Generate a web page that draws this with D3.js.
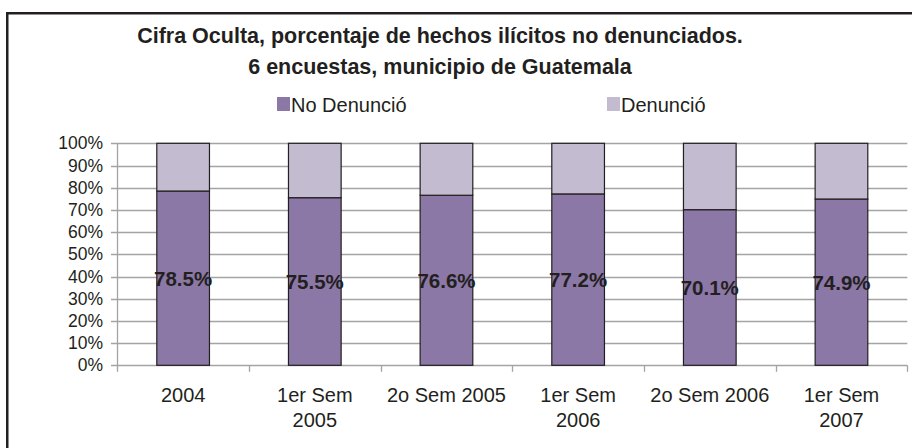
<!DOCTYPE html>
<html>
<head>
<meta charset="utf-8">
<script src="https://cdn.jsdelivr.net/npm/d3@7"></script>
<style>
  html, body { margin: 0; padding: 0; background: #fff; }
  svg { display: block; font-family: "Liberation Sans", Arial, sans-serif; }
</style>
</head>
<body>
<svg id="chart" width="912" height="448"></svg>
<script>
const titleLines = ["Cifra Oculta, porcentaje de hechos ilícitos no denunciados.", "6 encuestas, municipio de Guatemala"];
const categories = ["2004", "1er Sem\n2005", "2o Sem 2005", "1er Sem\n2006", "2o Sem 2006", "1er Sem\n2007"];
const seriesNames = ["No Denunció", "Denunció"];
const noDenuncio = [78.5, 75.5, 76.6, 77.2, 70.1, 74.9];
const denuncio = [21.5, 24.5, 23.4, 22.8, 29.9, 25.1];
const yTicks = [0, 10, 20, 30, 40, 50, 60, 70, 80, 90, 100];
const colors = ["#8b78a6", "#c3bbcf"];

const svg = d3.select("#chart");
const textColor = "#231f20";
const gridColor = "#a4a4a4";

// outer frame
svg.append("rect").attr("x", 7.25).attr("y", 13.25).attr("width", 1000).attr("height", 1000)
  .attr("fill", "none").attr("stroke", textColor).attr("stroke-width", 2.5);

// title
svg.append("g").selectAll("text").data(titleLines).join("text")
  .attr("x", 440).attr("y", (d, i) => 43 + i * 31)
  .attr("text-anchor", "middle").attr("font-weight", "bold").attr("font-size", 21.5)
  .attr("fill", textColor).text(d => d);

// legend
const legendX = [277, 607];
const lg = svg.append("g").selectAll("g").data(seriesNames).join("g")
  .attr("transform", (d, i) => `translate(${legendX[i]},0)`);
lg.append("rect").attr("x", 0).attr("y", 97).attr("width", 13).attr("height", 14).attr("fill", (d, i) => colors[i]);
lg.append("text").attr("x", 14).attr("y", 111.5).attr("font-size", 20).attr("fill", textColor).text(d => d);

// scales
const x = d3.scaleBand().domain(categories).range([117.3, 907.3]).paddingInner(0).paddingOuter(0);
const y = d3.scaleLinear().domain([0, 100]).range([365.3, 143.3]);

// gridlines
svg.append("g").selectAll("line").data(yTicks).join("line")
  .attr("x1", 111).attr("x2", 907.3)
  .attr("y1", d => Math.round(y(d)) + 0.5).attr("y2", d => Math.round(y(d)) + 0.5)
  .attr("stroke", gridColor).attr("stroke-width", 1.3);

// y axis line
svg.append("line").attr("x1", 117.5).attr("x2", 117.5).attr("y1", y(100)).attr("y2", y(0))
  .attr("stroke", gridColor).attr("stroke-width", 1.3);

// x ticks at category boundaries
const bounds = categories.map(c => x(c)).concat([x.range()[1]]);
svg.append("g").selectAll("line").data(bounds).join("line")
  .attr("x1", d => Math.round(d) + 0.5).attr("x2", d => Math.round(d) + 0.5)
  .attr("y1", y(0)).attr("y2", y(0) + 6.5)
  .attr("stroke", gridColor).attr("stroke-width", 1.3);

// y tick labels
svg.append("g").selectAll("text").data(yTicks).join("text")
  .attr("x", 103).attr("y", d => y(d)).attr("dy", "0.35em")
  .attr("text-anchor", "end").attr("font-size", 17.5).attr("fill", textColor)
  .text(d => d + "%");

// stacked bars
const stackData = categories.map((c, i) => ({ cat: c, s0: noDenuncio[i], s1: denuncio[i] }));
const stack = d3.stack().keys(["s0", "s1"])(stackData);
const barW = x.bandwidth() * 0.4;

svg.append("g").selectAll("g").data(stack).join("g")
  .attr("fill", (d, i) => colors[i])
  .selectAll("rect").data(d => d).join("rect")
  .attr("x", d => x(d.data.cat) + (x.bandwidth() - barW) / 2)
  .attr("width", barW)
  .attr("y", d => y(d[1]))
  .attr("height", d => y(d[0]) - y(d[1]))
  .attr("stroke", textColor).attr("stroke-width", 1.2);

// data labels (No Denunció)
svg.append("g").selectAll("text").data(stack[0]).join("text")
  .attr("x", d => x(d.data.cat) + x.bandwidth() / 2)
  .attr("y", d => y((d[0] + d[1]) / 2)).attr("dy", "0.36em")
  .attr("text-anchor", "middle").attr("font-weight", "bold").attr("font-size", 20.5)
  .attr("fill", textColor)
  .text(d => d3.format(".1f")(d.data.s0) + "%");

// x labels
svg.append("g").selectAll("text").data(categories).join("text")
  .attr("text-anchor", "middle").attr("font-size", 20).attr("fill", textColor)
  .attr("transform", d => `translate(${x(d) + x.bandwidth() / 2},0)`)
  .each(function (d) {
    const lines = d.split("\n");
    d3.select(this).selectAll("tspan").data(lines).join("tspan")
      .attr("x", 0).attr("y", (l, i) => 401.5 + i * 25).text(l => l);
  });
</script>
</body>
</html>
